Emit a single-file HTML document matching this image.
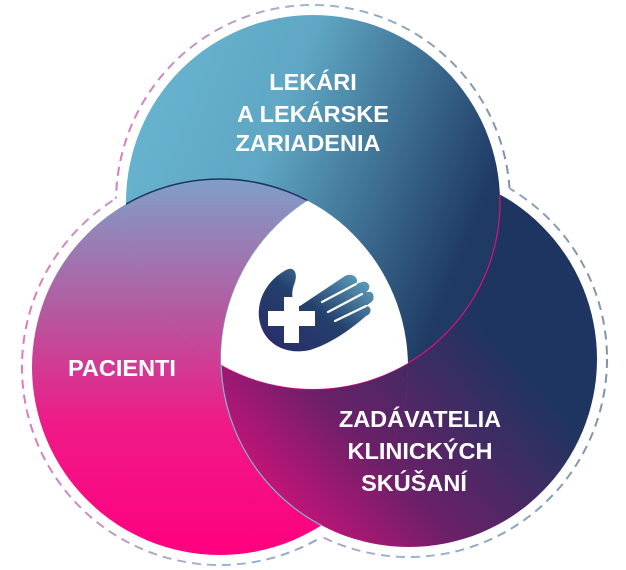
<!DOCTYPE html>
<html><head><meta charset="utf-8"><style>
html,body{margin:0;padding:0;background:#fff;width:626px;height:570px;overflow:hidden}
text{font-family:"Liberation Sans",sans-serif;font-weight:bold;fill:#fff;font-size:23.5px}
</style></head><body>
<svg width="626" height="570" viewBox="0 0 626 570" xmlns="http://www.w3.org/2000/svg">
<defs>
<linearGradient id="gt" x1="0" y1="0" x2="1" y2="0.4"><stop offset="0" stop-color="#6ab7d2"/><stop offset="0.45" stop-color="#5fa7c4"/><stop offset="1" stop-color="#1f3a64"/></linearGradient>
<linearGradient id="gl" x1="0" y1="0" x2="0" y2="1"><stop offset="0" stop-color="#7f9fc8"/><stop offset="0.35" stop-color="#b45aa0"/><stop offset="0.65" stop-color="#ef1a86"/><stop offset="1" stop-color="#ff0080"/></linearGradient>
<linearGradient id="gr" x1="0.1" y1="0.95" x2="0.7" y2="0.4"><stop offset="0" stop-color="#e0107e"/><stop offset="0.45" stop-color="#6a2068"/><stop offset="1" stop-color="#1d3560"/></linearGradient>
<linearGradient id="gd" x1="0" y1="0" x2="1" y2="0"><stop offset="0" stop-color="#e07ab8"/><stop offset="0.5" stop-color="#98b8d4"/><stop offset="1" stop-color="#7f93a8"/></linearGradient>
<linearGradient id="gh" x1="0" y1="1" x2="1" y2="0"><stop offset="0" stop-color="#2a2a6a"/><stop offset="0.5" stop-color="#24406c"/><stop offset="1" stop-color="#6cb5d0"/></linearGradient>
<clipPath id="cT"><circle cx="313" cy="202" r="187"/></clipPath>
<clipPath id="cL"><circle cx="220" cy="367" r="188"/></clipPath>
<clipPath id="cR"><circle cx="409" cy="359" r="188"/></clipPath>
<mask id="mT"><rect width="626" height="570" fill="#fff"/><circle cx="220" cy="367" r="198" fill="#000"/><circle cx="409" cy="359" r="198" fill="#000"/></mask>
<mask id="mL"><rect width="626" height="570" fill="#fff"/><circle cx="313" cy="202" r="197" fill="#000"/><circle cx="409" cy="359" r="198" fill="#000"/></mask>
<mask id="mR"><rect width="626" height="570" fill="#fff"/><circle cx="313" cy="202" r="197" fill="#000"/><circle cx="220" cy="367" r="198" fill="#000"/></mask>
</defs>
<g fill="none" stroke="url(#gd)" stroke-width="2" stroke-dasharray="9 6">
<circle cx="313" cy="202" r="197" mask="url(#mT)"/>
<circle cx="220" cy="367" r="198" mask="url(#mL)"/>
<circle cx="409" cy="359" r="198" mask="url(#mR)"/>
</g>
<circle cx="409" cy="359" r="188" fill="url(#gr)"/>
<circle cx="220" cy="367" r="188" fill="url(#gl)"/>
<circle cx="313" cy="202" r="187" fill="url(#gt)"/>
<g clip-path="url(#cT)"><circle cx="220" cy="367" r="188" fill="url(#gl)"/><circle cx="220" cy="367" r="188" fill="none" stroke="#1e3560" stroke-width="1.5"/></g>
<g clip-path="url(#cL)"><circle cx="409" cy="359" r="188" fill="url(#gr)"/><circle cx="409" cy="359" r="188" fill="none" stroke="#7bb8d0" stroke-width="1.2"/></g>
<g clip-path="url(#cR)"><circle cx="313" cy="202" r="187" fill="url(#gt)"/><circle cx="313" cy="202" r="187" fill="none" stroke="#e0107e" stroke-width="1.2"/></g>
<g clip-path="url(#cT)"><g clip-path="url(#cL)"><circle cx="409" cy="359" r="188" fill="#fff"/></g></g>
<!-- logo -->
<path fill="url(#gh)" d="M286 270 C293 266 298 272 295 282 C290 294 292 304 300 306 L345 276 C352 272 360 278 356 284 L362 282 C368 280 373 288 366 292 L368 292 C374 290 376 300 370 303 L366 306 C372 306 372 314 366 316 C350 330 330 344 310 350 C284 356 262 342 259 318 C257 298 268 280 286 270Z"/>
<g stroke="#fff" stroke-width="2.2" stroke-linecap="round" fill="none">
<path d="M322 302 L356 284"/>
<path d="M328 312 L362 294"/>
<path d="M335 321 L366 306"/>
</g>
<path d="M268 311 h16 v-14 h15 v14 h16 v15 h-16 v17 h-15 v-17 h-16z" fill="#fff"/>
<text x="313" y="90" text-anchor="middle">LEKÁRI</text>
<text x="313" y="122" text-anchor="middle">A LEKÁRSKE</text>
<text x="308" y="151" text-anchor="middle">ZARIADENIA</text>
<text x="68" y="376">PACIENTI</text>
<text x="420" y="427" text-anchor="middle">ZADÁVATELIA</text>
<text x="420" y="459" text-anchor="middle">KLINICKÝCH</text>
<text x="414" y="491" text-anchor="middle">SKÚŠANÍ</text>
</svg>
</body></html>
